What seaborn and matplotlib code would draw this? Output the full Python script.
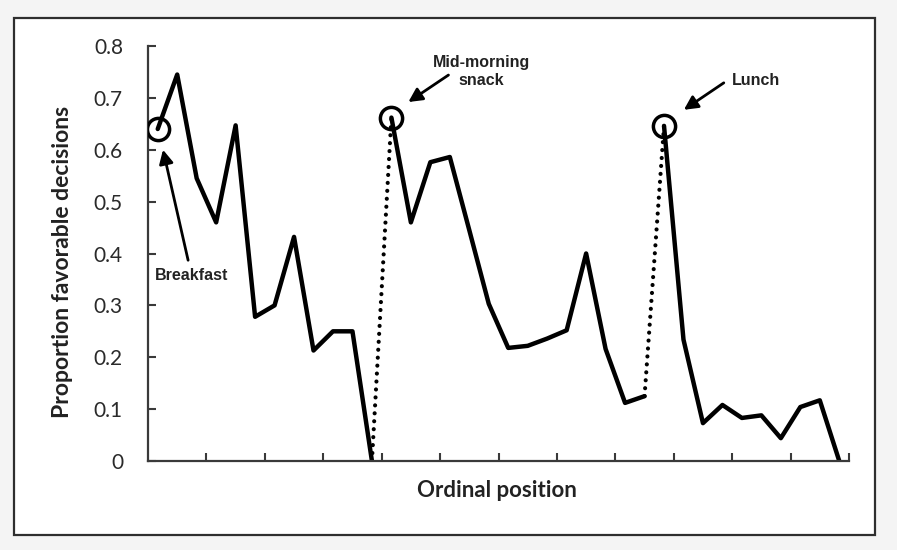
import numpy as np
import pandas as pd
import matplotlib
matplotlib.use("Agg")
import matplotlib.pyplot as plt
from matplotlib.patches import Rectangle
import seaborn as sns

# Proportion of favorable decisions by ordinal position, three sessions
session_1 = [0.64, 0.745, 0.545, 0.46, 0.647, 0.278, 0.30, 0.432, 0.213, 0.25, 0.25, 0.0]
session_2 = [0.662, 0.46, 0.576, 0.586, 0.445, 0.303, 0.218, 0.222, 0.236, 0.252,
             0.40, 0.216, 0.112, 0.125]
session_3 = [0.646, 0.234, 0.073, 0.108, 0.083, 0.088, 0.044, 0.104, 0.117, 0.0]
session_names = ["Breakfast", "Mid-morning\nsnack", "Lunch"]
y_ticks = [0, 0.1, 0.2, 0.3, 0.4, 0.5, 0.6, 0.7, 0.8]
y_tick_labels = ["0", "0.1", "0.2", "0.3", "0.4", "0.5", "0.6", "0.7", "0.8"]

sessions = [session_1, session_2, session_3]
values = session_1 + session_2 + session_3
ordinal = np.arange(1, len(values) + 1)
session_id = np.repeat(np.arange(len(sessions)), [len(s) for s in sessions])
df = pd.DataFrame({"pos": ordinal, "prop": values, "session": session_id})

# first point of each session (after a food break)
starts = df.groupby("session").head(1)
# break gaps: last point of a session to first point of the next
breaks = []
for s in range(1, len(sessions)):
    prev_last = df[df.session == s - 1].iloc[-1]
    nxt_first = df[df.session == s].iloc[0]
    breaks.append(([prev_last.pos, nxt_first.pos], [prev_last.prop, nxt_first.prop]))

sns.set_style("white")
plt.rcParams["font.family"] = ["Lato", "DejaVu Sans"]

fig = plt.figure(figsize=(8.97, 5.5), dpi=100)
fig.patch.set_facecolor("#f4f4f4")
fig.add_artist(Rectangle((14 / 897, 1 - 535 / 550), 861 / 897, 517 / 550,
                         transform=fig.transFigure, facecolor="white",
                         edgecolor="#2e2e2e", lw=1.6, zorder=0))
ax = fig.add_axes([148 / 897, 1 - 461 / 550, 701 / 897, 415 / 550])
ax.set_facecolor("none")

sns.lineplot(data=df, x="pos", y="prop", units="session", estimator=None,
             color="black", lw=3.2, ax=ax, legend=False)
for bx, by in breaks:
    ax.plot(bx, by, color="black", lw=3.0, linestyle=(0, (0.01, 1.9)),
            dash_capstyle="round", zorder=1)
ax.plot(starts.pos, starts.prop, linestyle="none", marker="o", ms=16,
        mfc="none", mec="black", mew=2.5, zorder=3)

# annotations
arrow = dict(arrowstyle="-|>,head_length=0.55,head_width=0.28", lw=2.0,
             color="black", mutation_scale=15, shrinkA=0, shrinkB=0)
txt = dict(fontsize=11.5, fontweight="bold", family=["Liberation Sans", "DejaVu Sans"],
           color="#222222", ha="center", va="center")
ax.annotate("", xy=(1.27, 0.60), xytext=(2.56, 0.387), arrowprops=arrow)
ax.text(2.72, 0.357, session_names[0], **txt)
ax.annotate("", xy=(13.87, 0.692), xytext=(15.93, 0.744), arrowprops=arrow)
ax.text(17.63, 0.751, session_names[1], linespacing=1.2, **txt)
ax.annotate("", xy=(28.02, 0.677), xytext=(30.07, 0.729), arrowprops=arrow)
ax.text(31.72, 0.733, session_names[2], **txt)

ax.set_xlim(0.5, len(values) + 0.5)
ax.set_ylim(0, 0.8)
ax.set_xticks(np.arange(3.5, len(values) + 1, 3))
ax.set_xticklabels([])
ax.set_yticks(y_ticks)
ax.set_yticklabels(y_tick_labels)
for side in ["top", "right"]:
    ax.spines[side].set_visible(False)
for side in ["left", "bottom"]:
    ax.spines[side].set_color("#3a3a3a")
    ax.spines[side].set_linewidth(1.6)
ax.tick_params(axis="both", direction="in", length=6, width=1.5, color="#3a3a3a",
               bottom=True, left=True)
ax.tick_params(axis="y", labelsize=15, labelcolor="#2a2a2a", pad=18)

ax.set_xlabel("Ordinal position", fontsize=16, fontweight="bold", color="#222222")
ax.set_ylabel("Proportion favorable decisions", fontsize=16.5, fontweight="bold",
              color="#222222")
ax.xaxis.set_label_coords(0.498, -0.045)
ax.yaxis.set_label_coords(-0.107, 0.48)

fig.savefig("out.png", dpi=100, facecolor=fig.get_facecolor())
